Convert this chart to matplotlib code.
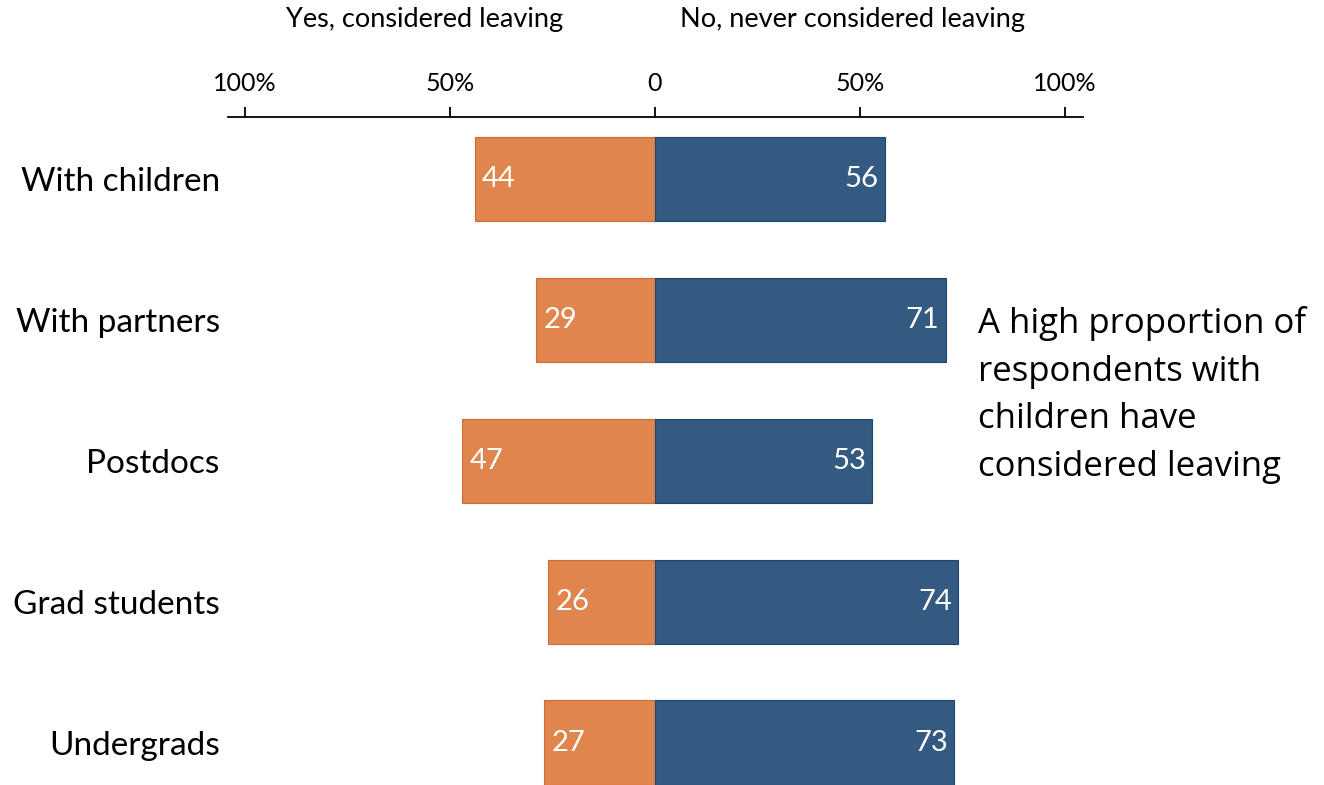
import matplotlib
matplotlib.use("Agg")
import matplotlib.pyplot as plt
import numpy as np

categories = ["With children", "With partners", "Postdocs", "Grad students", "Undergrads"]
yes_vals = [44, 29, 47, 26, 27]
no_vals = [56, 71, 53, 74, 73]
tick_vals = [-100, -50, 0, 50, 100]
tick_labels = ["100%", "50%", "0", "50%", "100%"]
header_yes = "Yes, considered leaving"
header_no = "No, never considered leaving"
note = "A high proportion of\nrespondents with\nchildren have\nconsidered leaving"

orange = "#E0854D"
blue = "#335A80"

fig = plt.figure(figsize=(13.24, 7.85), dpi=100)
W, H = 1324, 785
ax = fig.add_axes([228 / W, 0, (1083 - 228) / W, (785 - 117) / H])

y = np.arange(len(categories))
ax.barh(y, [-v for v in yes_vals], height=0.6, color=orange, edgecolor="#D06B35", linewidth=0.8)
ax.barh(y, no_vals, height=0.6, color=blue, edgecolor="#1E4470", linewidth=0.8)

lab_font = "Lato"
for i, (a, b) in enumerate(zip(yes_vals, no_vals)):
    ax.text(-a + 1.8, i, str(a), color="white", ha="left", va="center", fontsize=21, family=lab_font)
    ax.text(b - 1.6, i, str(b), color="white", ha="right", va="center", fontsize=21, family=lab_font)

ax.set_xlim(-104.15, 104.4)
ax.set_ylim(4.3, -0.44)
ax.xaxis.tick_top()
ax.set_xticks(tick_vals)
ax.set_xticklabels(tick_labels, fontsize=18, family=lab_font)
ax.tick_params(axis="x", direction="out", length=7, width=1.3, pad=9)
ax.set_yticks(y)
ax.set_yticklabels(categories, fontsize=24, family=lab_font)
ax.tick_params(axis="y", length=0, pad=6)
for s in ["left", "right", "bottom"]:
    ax.spines[s].set_visible(False)
ax.spines["top"].set_linewidth(1.3)

fig.text(425 / W, 1 - 20 / H, header_yes, ha="center", va="center", fontsize=19.5, family=lab_font)
fig.text(852 / W, 1 - 20 / H, header_no, ha="center", va="center", fontsize=19.5, family=lab_font)
fig.text(978 / W, 1 - 395 / H, note, ha="left", va="center", fontsize=25, family="Open Sans", linespacing=1.52)

fig.savefig("out.png", dpi=100)
